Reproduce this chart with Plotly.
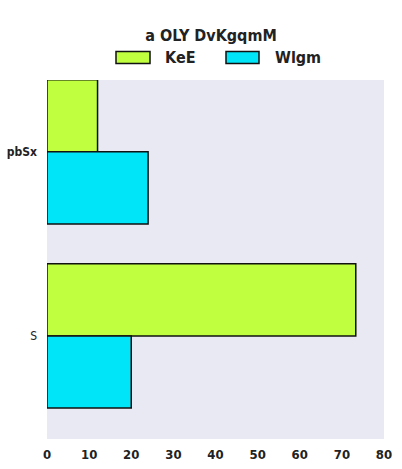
import plotly.graph_objects as go

categories = ["pbSx", "S"]
series_names = ["KeE", "Wlgm"]
kee_values = [12, 73.3]
wlgm_values = [24, 20]
colors = ["#BFFF3F", "#00E5F7"]
title_text = "a OLY DvKgqmM"
x_ticks = [0, 10, 20, 30, 40, 50, 60, 70, 80]

FONT = "DejaVu Sans Condensed, Liberation Sans, sans-serif"

fig = go.Figure()
for name, vals, col in zip(series_names, [kee_values, wlgm_values], colors):
    fig.add_trace(go.Bar(
        y=categories, x=vals, name=name, orientation="h",
        marker=dict(color=col, line=dict(color="#111111", width=1.5)),
        showlegend=False,
    ))

# custom legend (wide swatches)
legend_x = [(116, 150, 163), (226, 259, 273)]
W, H = 402, 469
ml, mr, mt, mb = 47, 18, 80, 30
pw, ph = W - ml - mr, H - mt - mb
def px(x):
    return (x - ml) / pw
def py(y):
    return (H - mb - y) / ph
for (x0, x1, tx), name, col in zip(legend_x, series_names, colors):
    fig.add_shape(type="rect", xref="paper", yref="paper",
                  x0=px(x0), x1=px(x1), y0=py(63.5), y1=py(51.5),
                  fillcolor=col, line=dict(color="#111111", width=1.5))
    fig.add_annotation(xref="paper", yref="paper", x=px(tx), y=py(57.5),
                       text="<b>" + name + "</b>", showarrow=False,
                       xanchor="left", yanchor="middle",
                       font=dict(family=FONT, size=16, color="#222222"))

fig.update_layout(
    width=W, height=H,
    margin=dict(l=ml, r=mr, t=mt, b=mb),
    paper_bgcolor="white",
    plot_bgcolor="#E9E9F3",
    barmode="group",
    bargap=0.217,
    bargroupgap=0,
    title=dict(text="<b>" + title_text + "</b>", x=px(211), xref="paper",
               xanchor="center", y=1 - 35 / H, yanchor="middle",
               font=dict(family=FONT, size=16, color="#222222")),
    font=dict(family=FONT, size=13, color="#222222"),
    xaxis=dict(range=[0, 80], tickvals=x_ticks, showgrid=False, zeroline=False,
               showline=False, ticks="", ticklabelstandoff=6, automargin=False,
               tickfont=dict(family=FONT, size=13, weight="bold", color="#222222")),
    yaxis=dict(range=[1.56, -0.39], showgrid=False, zeroline=False,
               showline=False, ticks="", ticklabelstandoff=9, automargin=False,
               tickvals=categories,
               ticktext=["<b>" + categories[0] + "</b>", categories[1]],
               tickfont=dict(family=FONT, size=12, color="#222222")),
)
fig.write_html("out.html")
